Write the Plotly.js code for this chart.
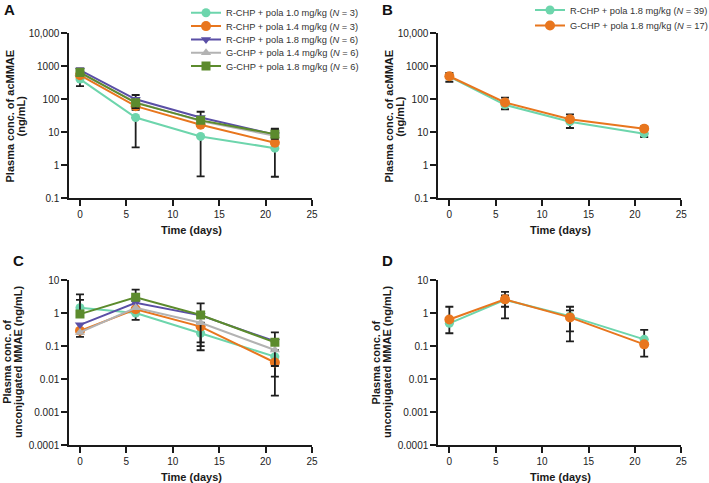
<!DOCTYPE html>
<html>
<head>
<meta charset="utf-8">
<script src="https://cdn.plot.ly/plotly-3.0.1.min.js"></script>
<style>
  html, body { margin: 0; padding: 0; background: #fff; }
  #chart { width: 709px; height: 483px; }
</style>
</head>
<body>
<div id="chart"></div>
<script>
// ---------- data ----------
const days = [0, 6, 13, 21];

// Panel A: acMMAE (ng/mL)
const namesA = [
  'R-CHP + pola 1.0 mg/kg (<i>N</i> = 3)',
  'R-CHP + pola 1.4 mg/kg (<i>N</i> = 3)',
  'R-CHP + pola 1.8 mg/kg (<i>N</i> = 6)',
  'G-CHP + pola 1.4 mg/kg (<i>N</i> = 6)',
  'G-CHP + pola 1.8 mg/kg (<i>N</i> = 6)'
];
const aR10 = [410, 28, 7.5, 3.3];
const aR14 = [540, 62, 17, 4.8];
const aR18 = [770, 100, 28, 8.5];
const aG14 = [620, 82, 22, 7.8];
const aG18 = [650, 78, 23, 8.8];
// error bars A (plus / minus)
const aR10Minus = [160, 24.5, 7.04, 2.85];
const aR14Minus = [NaN, 14, NaN, NaN];
const aR18Plus  = [100, 35, 14, 4.5];
const aG14Minus = [NaN, 28, NaN, 1.5];
const aG18Plus  = [NaN, NaN, NaN, 3.5];

// Panel B: acMMAE (ng/mL)
const namesB = [
  'R-CHP + pola 1.8 mg/kg (<i>N</i> = 39)',
  'G-CHP + pola 1.8 mg/kg (<i>N</i> = 17)'
];
const bR18 = [490, 68, 21, 9.1];
const bG18 = [500, 80, 25, 12.9];
const bR18Minus = [150, 18, 7.5, 1.9];
const bG18Plus  = [130, 32, 10, 2.1];

// Panel C: unconjugated MMAE (ng/mL)
const cR10 = [1.45, 1.0, 0.245, 0.048];
const cR14 = [0.29, 1.3, 0.39, 0.032];
const cR18 = [0.44, 2.05, 0.85, 0.14];
const cG14 = [0.26, 1.45, 0.51, 0.076];
const cG18 = [0.93, 3.0, 0.87, 0.13];
const cR10Plus  = [2.25, NaN, NaN, NaN];
const cR10Minus = [NaN, 0.38, 0.17, 0.036];
const cR14Minus = [0.1, NaN, 0.26, 0.0288];
const cG14Minus = [NaN, NaN, 0.41, 0.051];
const cG18Plus  = [1.57, 2.1, 1.08, 0.13];

// Panel D: unconjugated MMAE (ng/mL)
const dR18 = [0.49, 2.5, 0.81, 0.16];
const dG18 = [0.64, 2.6, 0.74, 0.113];
const dR18Plus  = [NaN, 0.9, 0.74, 0.15];
const dR18Minus = [0.245, 1.81, 0.53, NaN];
const dG18Plus  = [0.91, 1.8, 0.46, NaN];
const dG18Minus = [NaN, 1.05, 0.6, 0.065];

// tick labels
const xTicks = [0, 5, 10, 15, 20, 25];
const yTicksTop = [0.1, 1, 10, 100, 1000, 10000];
const yTickTextTop = ['0.1', '1', '10', '100', '1000', '10,000'];
const yTicksBot = [0.0001, 0.001, 0.01, 0.1, 1, 10];
const yTickTextBot = ['0.0001', '0.001', '0.01', '0.1', '1', '10'];

// ---------- styles ----------
const COL = {
  teal: '#6dd5ac', orange: '#e8761e', purple: '#5a4fa6', gray: '#b3b3b3', green: '#5c8b2d'
};
const ERR = '#1e1e1e';
const FONT = 'Liberation Sans, Arial, Helvetica, sans-serif';

function err(plus, minus) {
  const e = { type: 'data', visible: true, color: ERR, thickness: 1.8, width: 4, symmetric: false };
  e.array = plus || days.map(() => NaN);
  e.arrayminus = minus || days.map(() => NaN);
  return e;
}
function tr(y, name, color, symbol, xa, ya, errY, legend, show, msize) {
  return {
    type: 'scatter', mode: 'lines+markers', x: days, y: y, name: name,
    xaxis: xa, yaxis: ya, legend: legend, showlegend: show,
    line: { color: color, width: 2 },
    marker: { color: color, symbol: symbol, size: msize || 9 },
    error_y: errY
  };
}

const traces = [
  tr(aR10, namesA[0], COL.teal, 'circle', 'x', 'y', err(null, aR10Minus), 'legend', true),
  tr(aR14, namesA[1], COL.orange, 'circle', 'x', 'y', err(null, aR14Minus), 'legend', true, 10),
  tr(aR18, namesA[2], COL.purple, 'triangle-down', 'x', 'y', err(aR18Plus, null), 'legend', true),
  tr(aG14, namesA[3], COL.gray, 'triangle-up', 'x', 'y', err(null, aG14Minus), 'legend', true),
  tr(aG18, namesA[4], COL.green, 'square', 'x', 'y', err(aG18Plus, null), 'legend', true),

  tr(bR18, namesB[0], COL.teal, 'circle', 'x2', 'y2', err(null, bR18Minus), 'legend2', true),
  tr(bG18, namesB[1], COL.orange, 'circle', 'x2', 'y2', err(bG18Plus, null), 'legend2', true, 10),

  tr(cR10, namesA[0], COL.teal, 'circle', 'x3', 'y3', err(cR10Plus, cR10Minus), 'legend', false),
  tr(cR14, namesA[1], COL.orange, 'circle', 'x3', 'y3', err(null, cR14Minus), 'legend', false, 10),
  tr(cR18, namesA[2], COL.purple, 'triangle-down', 'x3', 'y3', err(null, null), 'legend', false),
  tr(cG14, namesA[3], COL.gray, 'triangle-up', 'x3', 'y3', err(null, cG14Minus), 'legend', false),
  tr(cG18, namesA[4], COL.green, 'square', 'x3', 'y3', err(cG18Plus, null), 'legend', false),

  tr(dR18, namesB[0], COL.teal, 'circle', 'x4', 'y4', err(dR18Plus, dR18Minus), 'legend2', false),
  tr(dG18, namesB[1], COL.orange, 'circle', 'x4', 'y4', err(dG18Plus, dG18Minus), 'legend2', false, 10)
];

const W = 709, H = 483;
const px = v => v / W;
const py = v => 1 - v / H;

const AXCOL = '#1a1a1a';
function xAx(l, r, lo, anchor) {
  return {
    domain: [px(l), px(r)], range: [lo, 25], anchor: anchor,
    tickvals: xTicks, ticktext: xTicks.map(String),
    showline: true, linecolor: AXCOL, linewidth: 2,
    ticks: 'outside', ticklen: 6, tickwidth: 2, tickcolor: AXCOL,
    showgrid: false, zeroline: false,
    tickfont: { family: FONT, size: 10, color: '#222' }
  };
}
function yAx(top, bot, rng, vals, text, anchor) {
  return {
    domain: [py(bot), py(top)], type: 'log', range: rng, anchor: anchor,
    tickvals: vals, ticktext: text,
    showline: true, linecolor: AXCOL, linewidth: 2,
    ticks: 'outside', ticklen: 6, tickwidth: 2, tickcolor: AXCOL,
    showgrid: false, zeroline: false,
    tickfont: { family: FONT, size: 10, color: '#222' }
  };
}

function ann(text, x, y, opts) {
  return Object.assign({
    text: text, xref: 'paper', yref: 'paper', x: px(x), y: py(y),
    xanchor: 'center', yanchor: 'middle', showarrow: false,
    font: { family: FONT, size: 11, color: '#1a1a1a', weight: 'bold' }
  }, opts || {});
}
const LETTER = { font: { family: FONT, size: 15, color: '#111', weight: 'bold' } };
const VERT = { textangle: -90 };

const layout = {
  width: W, height: H,
  margin: { l: 0, r: 0, t: 0, b: 0, autoexpand: false },
  paper_bgcolor: '#fff', plot_bgcolor: '#fff',
  font: { family: FONT, color: '#222' },
  showlegend: true,
  xaxis: xAx(69.3, 312, -1.15, 'y'),
  yaxis: yAx(33.3, 198.3, [-1, 4], yTicksTop, yTickTextTop, 'x'),
  xaxis2: xAx(438.3, 681.3, -1.19, 'y2'),
  yaxis2: yAx(33.3, 198.3, [-1, 4], yTicksTop, yTickTextTop, 'x2'),
  xaxis3: xAx(69.3, 312, -1.15, 'y3'),
  yaxis3: yAx(280, 445.3, [-4, 1], yTicksBot, yTickTextBot, 'x3'),
  xaxis4: xAx(438.3, 681.3, -1.19, 'y4'),
  yaxis4: yAx(280, 445.3, [-4, 1], yTicksBot, yTickTextBot, 'x4'),
  legend: {
    x: px(186), y: 1 + 1.7 / H, xanchor: 'left', yanchor: 'top',
    bgcolor: 'rgba(0,0,0,0)', borderwidth: 0,
    font: { family: FONT, size: 9.3, color: '#333' },
    tracegroupgap: 0
  },
  legend2: {
    x: px(530), y: 1 + 4.5 / H, xanchor: 'left', yanchor: 'top',
    bgcolor: 'rgba(0,0,0,0)', borderwidth: 0,
    font: { family: FONT, size: 9.3, color: '#333' },
    tracegroupgap: 0
  },
  annotations: [
    ann('A', 9, 10, LETTER),
    ann('B', 387.5, 10, LETTER),
    ann('C', 18.7, 260, LETTER),
    ann('D', 387.5, 260, LETTER),
    ann('Plasma conc. of acMMAE', 9.5, 116, VERT),
    ann('(ng/mL)', 20.5, 116, VERT),
    ann('Plasma conc. of acMMAE', 388.5, 116, VERT),
    ann('(ng/mL)', 399.8, 116, VERT),
    ann('Plasma conc. of', 6.8, 362, VERT),
    ann('unconjugated MMAE (ng/mL)', 18, 362, VERT),
    ann('Plasma conc. of', 375.5, 362, VERT),
    ann('unconjugated MMAE (ng/mL)', 387, 362, VERT),
    ann('Time (days)', 191, 230),
    ann('Time (days)', 560, 230),
    ann('Time (days)', 191, 476.7),
    ann('Time (days)', 560, 476.7)
  ]
};

const LEGEND_ROW = { legend: 13.3, legend2: 15.5 };
Plotly.newPlot('chart', traces, layout, { staticPlot: true, displayModeBar: false }).then(gd => {
  ['legend', 'legend2'].forEach(id => {
    const items = gd.querySelectorAll('g.' + id + ' g.traces');
    let y0 = null;
    items.forEach((el, i) => {
      const m = /translate\(\s*([-\d.e]+)[ ,]+([-\d.e]+)\s*\)/.exec(el.getAttribute('transform') || '');
      if (!m) return;
      if (y0 === null) y0 = parseFloat(m[2]);
      el.setAttribute('transform', 'translate(' + m[1] + ',' + (y0 + i * LEGEND_ROW[id]) + ')');
    });
  });
});
</script>
</body>
</html>
